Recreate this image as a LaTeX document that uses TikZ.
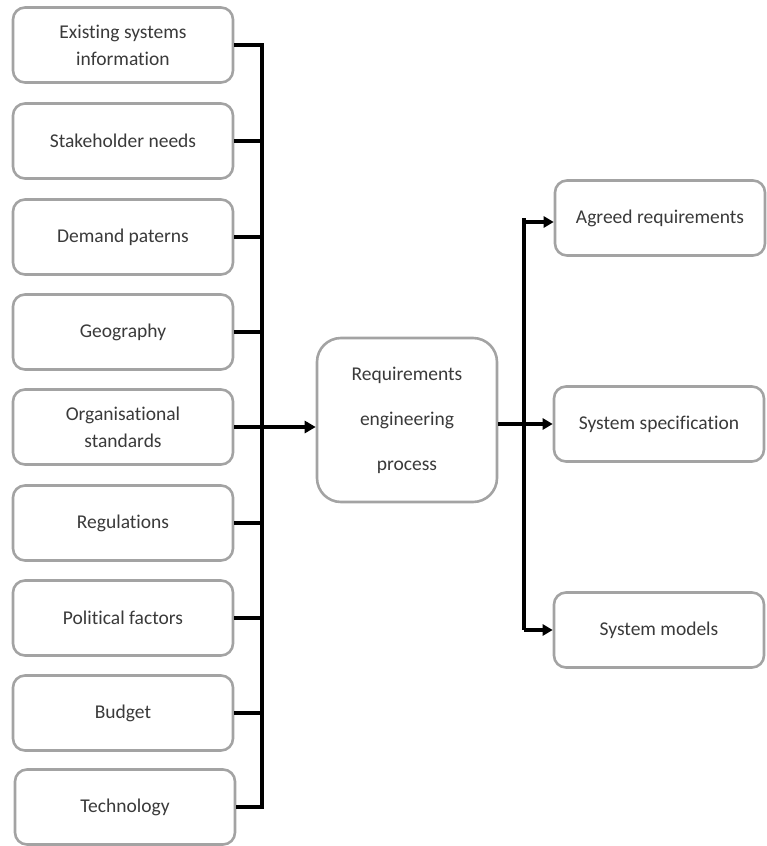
\documentclass[tikz,border=0pt]{standalone}
\usepackage{fontspec}
\setmainfont{Carlito}[Ligatures=NoCommon]
\usetikzlibrary{arrows.meta}
\definecolor{boxgray}{HTML}{A3A3A3}
\definecolor{txtgray}{HTML}{3A3A3A}
\tikzset{
  inbox/.style={draw=boxgray, line width=2.6pt, rounded corners=12pt, fill=white,
    minimum width=220pt, minimum height=75pt, inner sep=0pt, align=center,
    text=txtgray, font=\fontsize{19.5}{27}\selectfont},
  outbox/.style={inbox, minimum width=210pt},
  procbox/.style={draw=boxgray, line width=2.6pt, rounded corners=24pt, fill=white,
    minimum width=180pt, minimum height=164pt, inner sep=0pt, align=center,
    text=txtgray, font=\fontsize{19.5}{45}\selectfont},
  bus/.style={line width=3.2pt, line join=miter},
  flow/.style={line width=4pt, -{Triangle[length=11pt,width=12pt]}},
  outflow/.style={line width=3.4pt, -{Triangle[length=10pt,width=11pt]}},
}
\begin{document}
\begin{tikzpicture}[x=1pt,y=-1pt]
  \useasboundingbox (0,0) rectangle (766,846);

  % input boxes
  \node[inbox] (b1) at (123,45)  {Existing systems\\information};
  \node[inbox] (b2) at (123,141) {Stakeholder needs};
  \node[inbox] (b3) at (123,237) {Demand paterns};
  \node[inbox] (b4) at (123,332) {Geography};
  \node[inbox] (b5) at (123,427) {Organisational\\standards};
  \node[inbox] (b6) at (123,523) {Regulations};
  \node[inbox] (b7) at (123,618) {Political factors};
  \node[inbox] (b8) at (123,713) {Budget};
  \node[inbox] (b9) at (125,807) {Technology};

  % central process
  \node[procbox] (rep) at (407,420) {Requirements\\engineering\\process};

  % outputs
  \node[outbox] (o1) at (660,218) {Agreed requirements};
  \node[outbox] (o2) at (659,424) {System specification};
  \node[outbox] (o3) at (659,630) {System models};

  % collecting bus on the input side
  \coordinate (lb) at (262,0);
  \draw[bus] (b1.east) -- (b1.east -| lb) -- (b9.east -| lb) -- (b9.east);
  \foreach \n in {b2,b3,b4,b6,b7,b8}
    \draw[bus] (\n.east) -- (\n.east -| lb);
  \draw[flow] (b5.east) -- (b5.east -| rep.west);

  % distribution bus on the output side
  \coordinate (rb) at (524,0);
  \draw[line width=3.6pt] (rep.east |- o2.west) -- (o2.west -| rb);
  \draw[outflow] (o2.west -| rb) -- (o2.west);
  \draw[bus] (o1.west -| rb) -- (o3.west -| rb);
  \draw[outflow] ([yshift=-4pt]o1.west -| rb) -- ([yshift=-4pt]o1.west);
  \draw[outflow] (o3.west -| rb) -- (o3.west);
\end{tikzpicture}
\end{document}
